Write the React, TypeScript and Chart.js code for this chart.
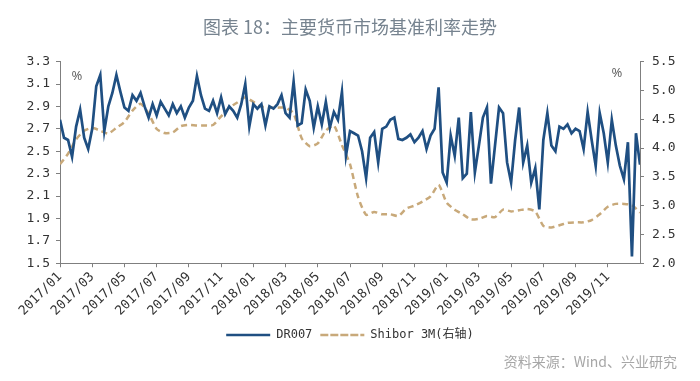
import { useEffect, useRef } from 'react';
import { Chart, registerables } from 'chart.js';

Chart.register(...registerables);

const xTickLabels = [
  '2017/01', '2017/03', '2017/05', '2017/07', '2017/09', '2017/11',
  '2018/01', '2018/03', '2018/05', '2018/07', '2018/09', '2018/11',
  '2019/01', '2019/03', '2019/05', '2019/07', '2019/09', '2019/11',
];

// DR007, roughly weekly (4 readings per month), left axis
const drValues = [
  2.78, 2.62, 2.60, 2.45, 2.72, 2.87, 2.62, 2.52, 2.70, 3.08,
  3.18, 2.68, 2.90, 3.02, 3.18, 3.03, 2.89, 2.86, 3.00, 2.95,
  3.02, 2.90, 2.80, 2.92, 2.82, 2.94, 2.88, 2.82, 2.92, 2.84,
  2.90, 2.80, 2.89, 2.95, 3.17, 3.00, 2.88, 2.86, 2.95, 2.84,
  2.98, 2.83, 2.90, 2.86, 2.80, 2.92, 3.10, 2.72, 2.92, 2.88,
  2.92, 2.73, 2.90, 2.88, 2.92, 3.00, 2.84, 2.80, 3.12, 2.73,
  2.75, 3.05, 2.95, 2.71, 2.90, 2.74, 2.94, 2.71, 2.85, 2.78,
  3.03, 2.46, 2.68, 2.66, 2.64, 2.50, 2.26, 2.62, 2.67, 2.40,
  2.70, 2.72, 2.78, 2.80, 2.61, 2.60, 2.62, 2.65, 2.58, 2.62,
  2.68, 2.52, 2.64, 2.70, 3.07, 2.31, 2.22, 2.64, 2.46, 2.80,
  2.26, 2.30, 2.85, 2.31, 2.55, 2.80, 2.89, 2.21, 2.55, 2.89,
  2.84, 2.40, 2.22, 2.60, 2.89, 2.40, 2.55, 2.22, 2.35, 1.98,
  2.60, 2.84, 2.55, 2.50, 2.72, 2.70, 2.74, 2.66, 2.70, 2.68,
  2.52, 2.85, 2.60, 2.37, 2.84, 2.66, 2.40, 2.78, 2.55, 2.37,
  2.25, 2.58, 1.56, 2.66, 2.38,
];

// Shibor 3M, twice a month, right axis
const shiborValues = [
  3.72, 3.90, 4.15, 4.30, 4.35, 4.30, 4.25, 4.35, 4.45, 4.65,
  4.77, 4.60, 4.33, 4.26, 4.27, 4.38, 4.40, 4.39, 4.39, 4.40,
  4.55, 4.70, 4.79, 4.88, 4.80, 4.72, 4.70, 4.70, 4.70, 4.60,
  4.17, 4.03, 4.08, 4.30, 4.39, 4.05, 3.72, 3.15, 2.84, 2.89,
  2.85, 2.85, 2.82, 2.95, 3.00, 3.07, 3.16, 3.36, 3.05, 2.93,
  2.85, 2.76, 2.77, 2.82, 2.80, 2.93, 2.90, 2.92, 2.94, 2.90,
  2.65, 2.62, 2.66, 2.70, 2.71, 2.71, 2.75, 2.85, 2.98, 3.03,
  3.03, 3.01, 2.88,
];

const AXIS_COLOR = '#7f7f7f';
const TICK_FONT = { family: '"DejaVu Sans Mono", monospace', size: 13 };

export default function App() {
  const ref = useRef<HTMLCanvasElement>(null);

  useEffect(() => {
    if (!ref.current) return;
    const overlay = {
      id: 'overlay',
      afterDraw(chart: any) {
        const { ctx, chartArea } = chart;
        ctx.save();
        ctx.fillStyle = '#666666';
        ctx.font = '13px "Noto Sans"';
        ctx.textAlign = 'center';
        ctx.textBaseline = 'middle';
        ctx.fillText('%', chartArea.left + 17, chartArea.top + 15);
        ctx.fillText('%', chartArea.right - 23, chartArea.top + 12);
        ctx.font = '14px "Noto Sans CJK SC"';
        ctx.fillStyle = '#a6a6a6';
        ctx.textAlign = 'right';
        ctx.fillText('资料来源：Wind、兴业研究', 677, 362);
        ctx.restore();
      },
    };

    const chart = new Chart(ref.current, {
      type: 'line',
      data: {
        datasets: [
          {
            label: 'DR007',
            data: drValues.map((y, i) => ({ x: i / 4, y })),
            yAxisID: 'y',
            borderColor: '#1f4f82',
            backgroundColor: '#1f4f82',
            borderWidth: 2.7,
            pointRadius: 0,
            tension: 0,
          },
          {
            label: 'Shibor 3M(右轴)',
            data: shiborValues.map((y, i) => ({ x: i / 2, y })),
            yAxisID: 'y1',
            borderColor: '#c8a97a',
            backgroundColor: '#c8a97a',
            borderWidth: 2.5,
            borderDash: [6, 4],
            pointRadius: 0,
            tension: 0.2,
          },
        ],
      },
      options: {
        animation: false,
        responsive: true,
        maintainAspectRatio: false,
        layout: { padding: { left: 0, right: 0, top: 0, bottom: 30 } },
        plugins: {
          title: {
            display: true,
            text: '图表 18：主要货币市场基准利率走势',
            color: '#76838f',
            font: { family: '"Noto Sans CJK SC"', size: 18, weight: 'normal' },
            padding: { top: 16, bottom: 24 },
          },
          legend: {
            position: 'bottom',
            labels: {
              boxWidth: 44,
              boxHeight: 0,
              color: '#333333',
              font: { family: '"DejaVu Sans Mono", "Noto Sans CJK SC"', size: 12 },
              padding: 8,
            },
          },
          tooltip: { enabled: false },
        },
        scales: {
          x: {
            type: 'linear',
            min: 0,
            max: 36,
            afterBuildTicks: (s: any) => {
              s.ticks = xTickLabels.map((_, i) => ({ value: i * 2 }));
            },
            ticks: {
              callback: (v: any) => xTickLabels[Math.round(Number(v) / 2)] ?? '',
              autoSkip: false,
              maxRotation: 45,
              minRotation: 45,
              color: '#333333',
              font: TICK_FONT,
              padding: 2,
            },
            grid: { drawOnChartArea: false, tickLength: 4, color: AXIS_COLOR },
            border: { color: AXIS_COLOR },
          },
          y: {
            position: 'left',
            min: 1.5,
            max: 3.3,
            afterFit: (s: any) => { s.width = 60; },
            ticks: {
              stepSize: 0.2,
              callback: (v: any) => Number(v).toFixed(1),
              color: '#333333',
              font: TICK_FONT,
              padding: 6,
            },
            grid: { drawOnChartArea: false, tickLength: 4, color: AXIS_COLOR },
            border: { color: AXIS_COLOR },
          },
          y1: {
            position: 'right',
            min: 2,
            max: 5.5,
            afterFit: (s: any) => { s.width = 60; },
            ticks: {
              stepSize: 0.5,
              callback: (v: any) => Number(v).toFixed(1),
              color: '#333333',
              font: TICK_FONT,
              padding: 8,
            },
            grid: { drawOnChartArea: false, tickLength: 4, color: AXIS_COLOR },
            border: { color: AXIS_COLOR },
          },
        },
      },
      plugins: [overlay],
    });
    return () => chart.destroy();
  }, []);

  return (
    <div style={{ position: 'fixed', left: 0, top: 0, width: 700, height: 381, background: '#fff' }}>
      <canvas ref={ref} />
    </div>
  );
}
